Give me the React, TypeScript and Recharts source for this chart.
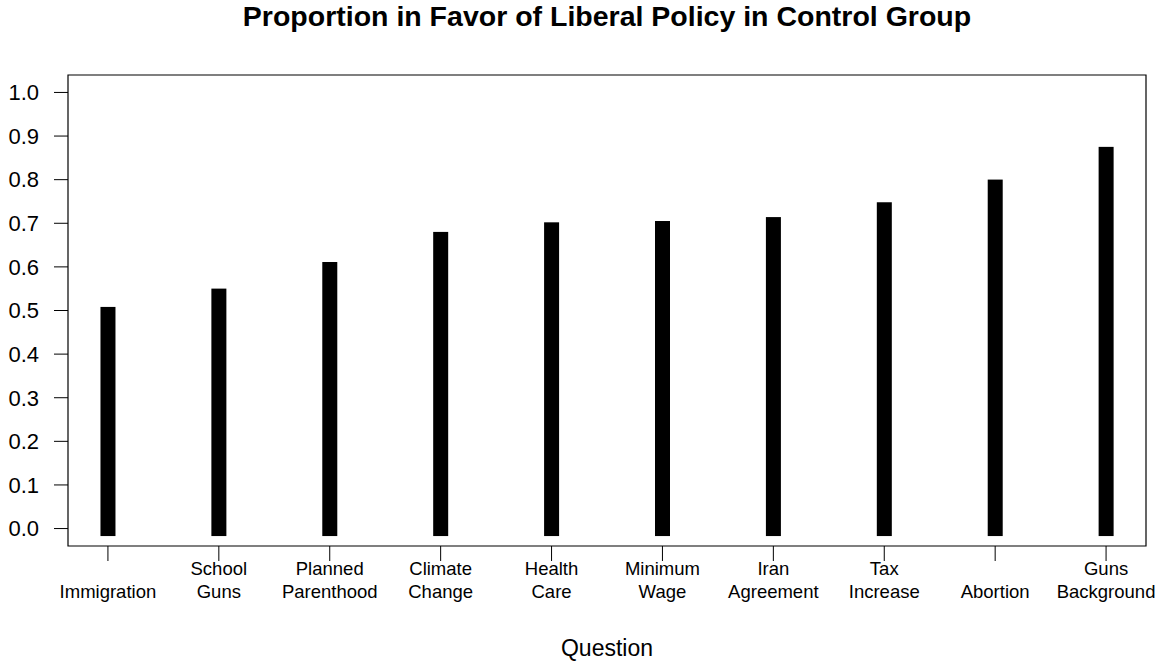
import React from "react";
import { ComposedChart, Bar, XAxis, YAxis, ReferenceArea } from "recharts";

const LABEL_LINE1 = ["", "School", "Planned", "Climate", "Health", "Minimum", "Iran", "Tax", "", "Guns"];
const LABEL_LINE2 = ["Immigration", "Guns", "Parenthood", "Change", "Care", "Wage", "Agreement", "Increase", "Abortion", "Background"];
const VALUES = [0.491, 0.533, 0.594, 0.663, 0.685, 0.688, 0.697, 0.731, 0.783, 0.858];
const Y_TICKS = [0, 0.1, 0.2, 0.3, 0.4, 0.5, 0.6, 0.7, 0.8, 0.9, 1.0];
const X_TICKS = [1, 2, 3, 4, 5, 6, 7, 8, 9, 10];
const X_DOMAIN = [0.64, 10.36];
const Y_DOMAIN = [-0.04, 1.04];
const TITLE = "Proportion in Favor of Liberal Policy in Control Group";
const X_TITLE = "Question";

const data = VALUES.map((v, i) => ({ pos: X_TICKS[i], value: v }));

const FONT = "'Liberation Sans', Arial, Helvetica, sans-serif";
const W = 1156;
const H = 663;

const XTick = (props: any) => {
  const { x, y, payload } = props;
  const i = X_TICKS.indexOf(payload.value);
  return (
    <g>
      <text x={x} y={y + 14} textAnchor="middle" fontSize={18.5} fontFamily={FONT} fill="#000">
        {LABEL_LINE1[i]}
      </text>
      <text x={x} y={y + 37} textAnchor="middle" fontSize={18.5} fontFamily={FONT} fill="#000">
        {LABEL_LINE2[i]}
      </text>
    </g>
  );
};

const CapBar = (props: any) => {
  const { x, y, width, height } = props;
  const cap = width / 2;
  return <rect x={x} y={y - cap} width={width} height={height + 2 * cap} fill="#000" />;
};

export default function App() {
  return (
    <div style={{ position: "absolute", left: 0, top: 0, width: W, height: H, background: "#fff", fontFamily: FONT }}>
      <ComposedChart width={W} height={H} data={data} margin={{ top: 75, right: 10, bottom: 0, left: 0 }}>
        <XAxis
          type="number"
          dataKey="pos"
          domain={X_DOMAIN}
          ticks={X_TICKS}
          allowDataOverflow
          height={117}
          axisLine={false}
          tickLine={{ stroke: "#000", strokeWidth: 1 }}
          tickSize={15}
          tickMargin={0}
          tick={<XTick />}
          interval={0}
        />
        <YAxis
          type="number"
          domain={Y_DOMAIN}
          ticks={Y_TICKS}
          allowDataOverflow
          width={68}
          axisLine={false}
          tickLine={{ stroke: "#000", strokeWidth: 1 }}
          tickSize={14}
          tickMargin={15}
          interval={0}
          tickFormatter={(v: number) => v.toFixed(1)}
          tick={{ fontSize: 22, fill: "#000", fontFamily: FONT }}
        />
        <ReferenceArea
          x1={X_DOMAIN[0]}
          x2={X_DOMAIN[1]}
          y1={Y_DOMAIN[0]}
          y2={Y_DOMAIN[1]}
          fill="none"
          fillOpacity={0}
          stroke="#000"
          strokeWidth={1.2}
          ifOverflow="visible"
        />
        <Bar dataKey="value" barSize={15} fill="#000" isAnimationActive={false} shape={<CapBar />} />
      </ComposedChart>
      <svg width={W} height={H} style={{ position: "absolute", left: 0, top: 0, pointerEvents: "none" }}>
        <text x={607} y={26} textAnchor="middle" fontSize={28.5} fontWeight="bold" fontFamily={FONT} fill="#000">
          {TITLE}
        </text>
        <text x={607} y={656} textAnchor="middle" fontSize={23} fontFamily={FONT} fill="#000">
          {X_TITLE}
        </text>
      </svg>
    </div>
  );
}
